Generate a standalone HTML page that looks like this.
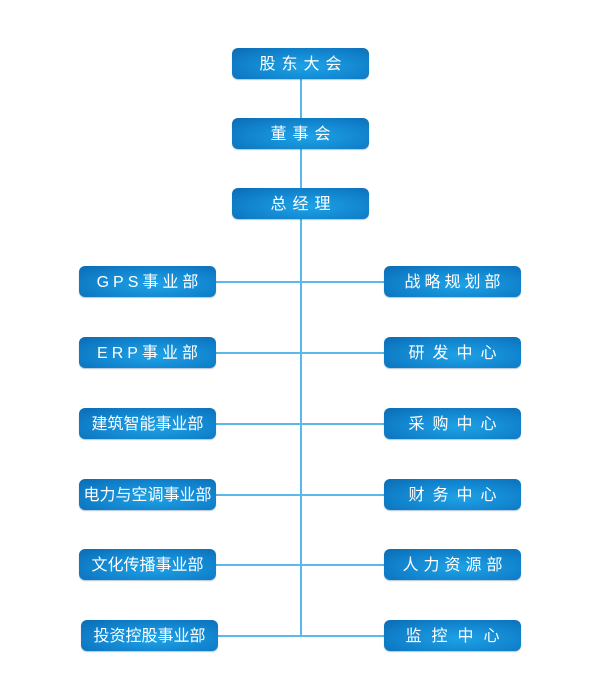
<!DOCTYPE html><html><head><meta charset="utf-8"><style>
body{margin:0;width:600px;height:700px;background:#fff;position:relative;overflow:hidden;font-family:"Liberation Sans","Noto Sans CJK SC",sans-serif}
.b{position:absolute;width:137px;height:31px;border-radius:6px;background:radial-gradient(ellipse at 55% 60%,#1ea2e6 0%,#1285cf 55%,#0a6bb4 100%);color:#fff;font-size:16px;line-height:33px;text-align:center;box-shadow:0 1px 1px rgba(0,60,120,.3);box-sizing:border-box}
.l{position:absolute;background:#5ab8ea}
</style></head><body>
<div class="l" style="left:300px;top:79px;width:2px;height:558px"></div>
<div class="l" style="left:216px;top:281px;width:168px;height:1.5px"></div>
<div class="l" style="left:216px;top:352px;width:168px;height:1.5px"></div>
<div class="l" style="left:216px;top:423px;width:168px;height:1.5px"></div>
<div class="l" style="left:216px;top:494px;width:168px;height:1.5px"></div>
<div class="l" style="left:216px;top:564px;width:168px;height:1.5px"></div>
<div class="l" style="left:218px;top:635px;width:166px;height:1.5px"></div>
<div class="b" style="left:232px;top:48px;letter-spacing:6px;padding-left:6px">股东大会</div>
<div class="b" style="left:232px;top:118px;letter-spacing:6px;padding-left:6px">董事会</div>
<div class="b" style="left:232px;top:188px;letter-spacing:6px;padding-left:6px">总经理</div>
<div class="b" style="left:79px;top:266px;letter-spacing:4px;padding-left:4px">GPS事业部</div>
<div class="b" style="left:79px;top:337px;letter-spacing:4px;padding-left:4px">ERP事业部</div>
<div class="b" style="left:79px;top:408px">建筑智能事业部</div>
<div class="b" style="left:79px;top:479px">电力与空调事业部</div>
<div class="b" style="left:79px;top:549px">文化传播事业部</div>
<div class="b" style="left:81px;top:620px">投资控股事业部</div>
<div class="b" style="left:384px;top:266px;letter-spacing:4px;padding-left:4px">战略规划部</div>
<div class="b" style="left:384px;top:337px;letter-spacing:8px;padding-left:8px">研发中心</div>
<div class="b" style="left:384px;top:408px;letter-spacing:8px;padding-left:8px">采购中心</div>
<div class="b" style="left:384px;top:479px;letter-spacing:8px;padding-left:8px">财务中心</div>
<div class="b" style="left:384px;top:549px;letter-spacing:5px;padding-left:5px">人力资源部</div>
<div class="b" style="left:384px;top:620px;letter-spacing:10px;padding-left:10px">监控中心</div>
</body></html>
